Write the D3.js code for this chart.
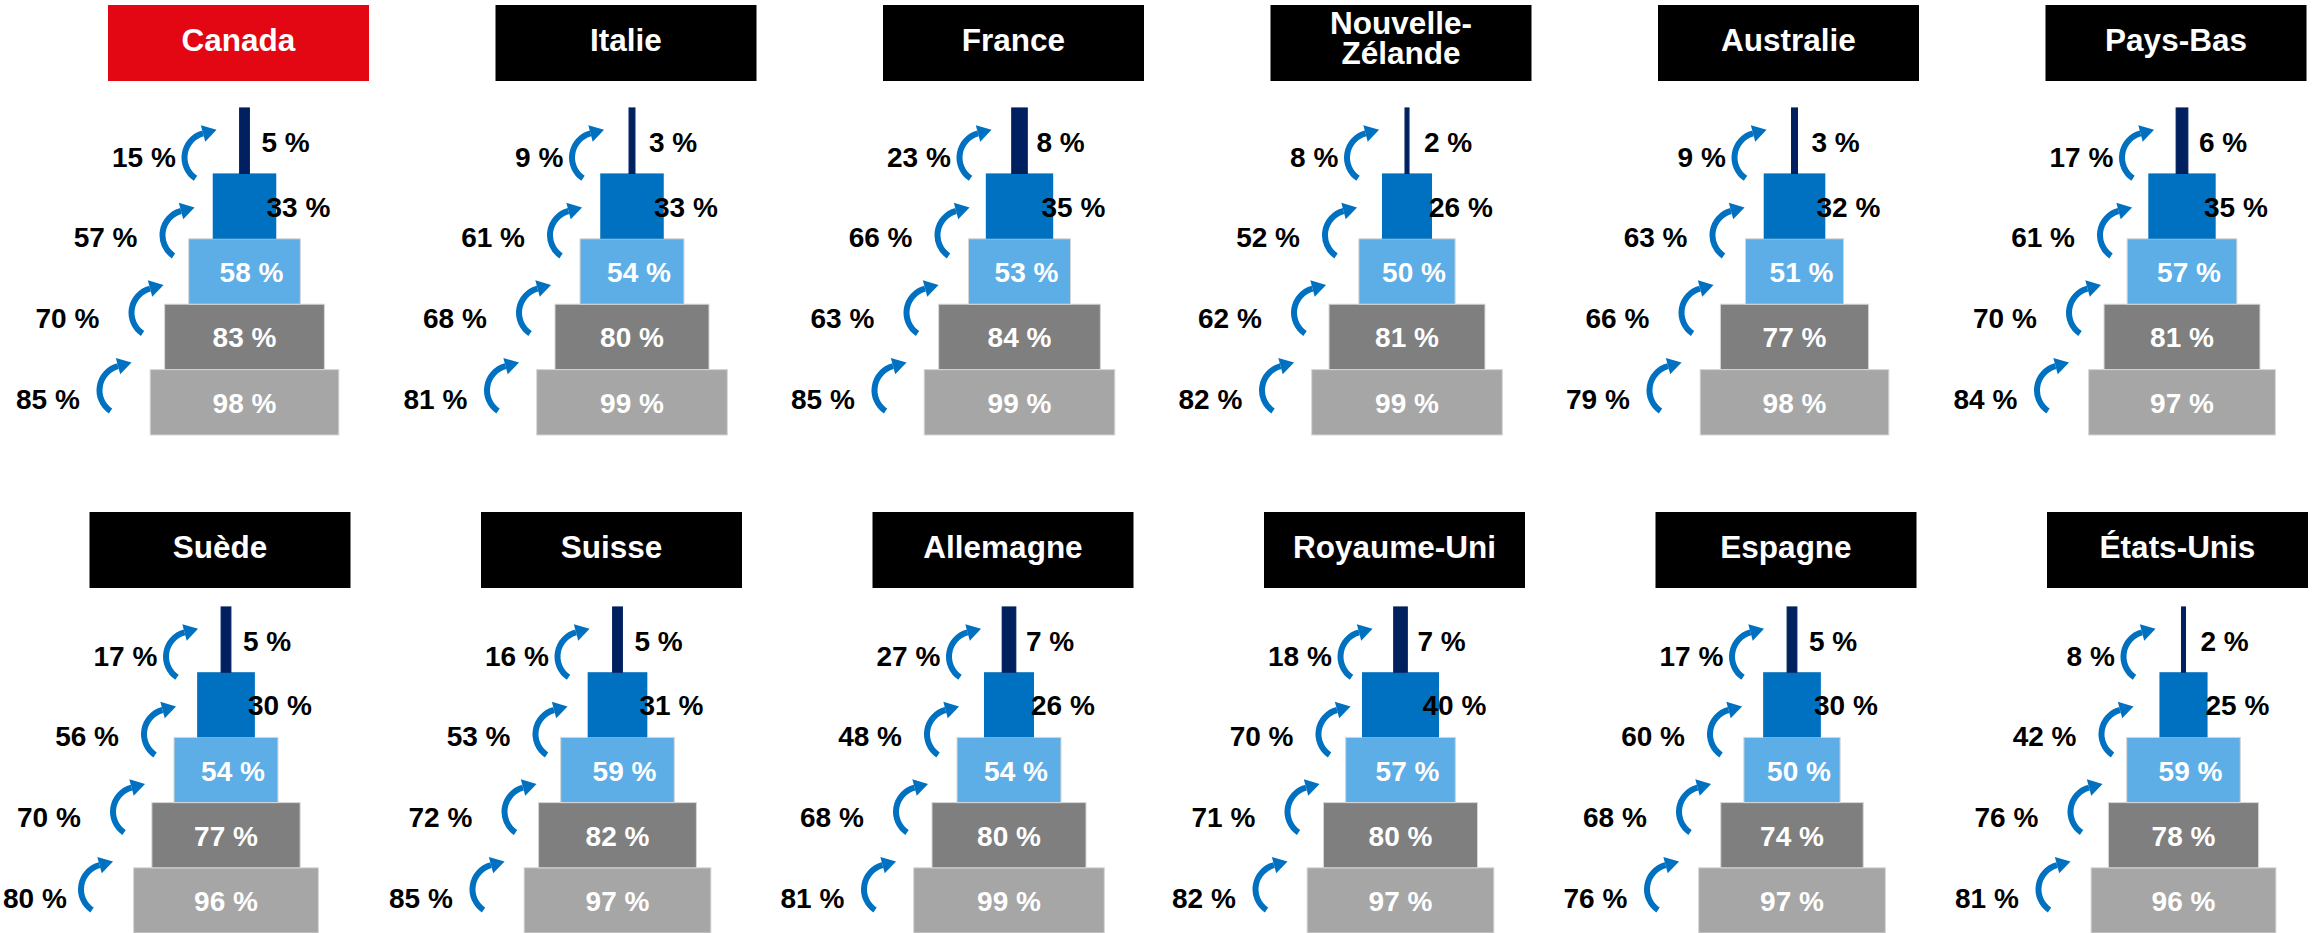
<!DOCTYPE html>
<meta charset="utf-8">
<style>
body { margin: 0; background: #fff; }
text { font-family: "Liberation Sans", Arial, sans-serif; font-weight: bold; }
</style>
<body>
<div id="chart"></div>
<script src="https://d3js.org/d3.v7.min.js"></script>
<script>
// countries, in reading order (two rows of six)
var countries = ["Canada", "Italie", "France", "Nouvelle-Zélande", "Australie", "Pays-Bas",
                 "Suède", "Suisse", "Allemagne", "Royaume-Uni", "Espagne", "États-Unis"];
var highlight = "Canada";

// pyramid levels, from the base (stage1) to the tip (stage5), in %
var stage1 = [98, 99, 99, 99, 98, 97, 96, 97, 99, 97, 97, 96];
var stage2 = [83, 80, 84, 81, 77, 81, 77, 82, 80, 80, 74, 78];
var stage3 = [58, 54, 53, 50, 51, 57, 54, 59, 54, 57, 50, 59];
var stage4 = [33, 33, 35, 26, 32, 35, 30, 31, 26, 40, 30, 25];
var stage5 = [5, 3, 8, 2, 3, 6, 5, 5, 7, 7, 5, 2];

// conversion from one level to the next, bottom to top, in %
var rate1 = [85, 81, 85, 82, 79, 84, 80, 85, 81, 82, 76, 81];
var rate2 = [70, 68, 63, 62, 66, 70, 70, 72, 68, 71, 68, 76];
var rate3 = [57, 61, 66, 52, 63, 61, 56, 53, 48, 70, 60, 42];
var rate4 = [15, 9, 23, 8, 9, 17, 17, 16, 27, 18, 17, 8];

var stages = [stage1, stage2, stage3, stage4, stage5];
var rates = [rate1, rate2, rate3, rate4];

var stageColors = ["#a6a6a6", "#7f7f7f", "#5daee6", "#0070c0", "#002060"];
var arrowColor = "#0070c0";

/* layout */
var W = 2316, H = 933;
var perRow = 6;
var boxW = 261, boxH = 76;
var rowLayout = [
  {titleTop: 5,   top: 108, bottom: 435, first: 244.5, last: 2182},
  {titleTop: 512, top: 607, bottom: 933, first: 226,   last: 2183.5}
];
// arrow block and label block, relative to the pyramid axis (bottom to top)
var arrowDx = [-120, -88, -57, -35];
var labelDx = [-164.7, -145.2, -107, -68.7];

var svg = d3.select("#chart").append("svg")
    .attr("width", W)
    .attr("height", H);

// bar width scale, in % of the population
var w = d3.scaleLinear().domain([0, 100]).range([0, 192.5]);

var arcShape = d3.arc()
    .innerRadius(22)
    .outerRadius(28)
    .startAngle(214 * Math.PI / 180)
    .endAngle(345 * Math.PI / 180);

function arrowHead() {
  var t = 345 * Math.PI / 180, r = 25;
  var mx = r * Math.sin(t), my = -r * Math.cos(t);
  var rx = Math.sin(t), ry = -Math.cos(t);   // outward
  var tx = Math.cos(t), ty = Math.sin(t);    // along the arc
  var p = d3.path();
  p.moveTo(mx + rx * 8.5, my + ry * 8.5);
  p.lineTo(mx + tx * 14, my + ty * 14);
  p.lineTo(mx - rx * 8.5, my - ry * 8.5);
  p.closePath();
  return p.toString();
}

countries.forEach(function(name, i) {
  var row = rowLayout[Math.floor(i / perRow)];
  var col = i % perRow;
  var xCol = d3.scaleLinear().domain([0, perRow - 1]).range([row.first, row.last]);
  var cx = xCol(col);
  var y = d3.scaleBand().domain(d3.range(stages.length)).range([row.bottom, row.top]);
  var yLabel = d3.scaleLinear().domain([0, rates.length - 1]).range([row.top + 290.5, row.top + 48.5]);
  var yArrow = d3.scaleLinear().domain([0, rates.length - 1]).range([row.top + 282.3, row.top + 49.6]);
  var bh = y.bandwidth();

  var g = svg.append("g");

  // title box
  var bx = cx - 6 - boxW / 2;
  g.append("rect")
      .attr("x", bx)
      .attr("y", row.titleTop)
      .attr("width", boxW)
      .attr("height", boxH)
      .attr("fill", name === highlight ? "#e30613" : "#000");
  var title = g.append("text")
      .attr("x", bx + boxW / 2)
      .attr("y", row.titleTop + 46)
      .attr("text-anchor", "middle")
      .attr("fill", "#fff")
      .style("font-size", "31.5px")
      .text(name);
  if (title.node().getComputedTextLength() > boxW - 16 && name.indexOf("-") > 0) {
    var parts = [name.slice(0, name.indexOf("-") + 1), name.slice(name.indexOf("-") + 1)];
    title.text(null);
    parts.forEach(function(s, k) {
      title.append("tspan")
          .attr("x", bx + boxW / 2)
          .attr("y", row.titleTop + 29.3 + k * 29.7)
          .text(s);
    });
  }

  // pyramid bars
  stages.forEach(function(s, k) {
    g.append("rect")
        .attr("x", cx - w(s[i]) / 2)
        .attr("y", y(k))
        .attr("width", w(s[i]))
        .attr("height", bh)
        .attr("fill", stageColors[k])
        .attr("stroke", k === 4 ? stageColors[k] : (k < 3 ? "#d6d6d6" : "none"))
        .attr("stroke-width", k === 4 ? 1.2 : 1);
  });

  // level values
  stages.forEach(function(s, k) {
    var xt = cx, anchor = "middle", color = "#fff";
    if (k === 2) xt = cx + 7;
    if (k === 3) { xt = cx + 22; anchor = "start"; color = "#000"; }
    if (k === 4) { xt = cx + 17; anchor = "start"; color = "#000"; }
    g.append("text")
        .attr("x", xt)
        .attr("y", y(k) + bh / 2 + (k === 4 ? 11.5 : 10.5))
        .attr("text-anchor", anchor)
        .attr("fill", color)
        .style("font-size", "28px")
        .text(s[i] + " %");
  });

  // conversion arrows and rates
  rates.forEach(function(r, j) {
    var a = g.append("g")
        .attr("transform", "translate(" + (cx + arrowDx[j]) + "," + yArrow(j) + ")")
        .attr("fill", arrowColor);
    a.append("path").attr("d", arcShape());
    a.append("path").attr("d", arrowHead());

    var t = g.append("text")
        .attr("x", cx + labelDx[j])
        .attr("y", yLabel(j) + 10)
        .attr("text-anchor", "end")
        .attr("fill", "#000")
        .style("font-size", "28px")
        .text(r[i] + " %");
    // keep the rate inside the page
    var bb = t.node().getBBox();
    if (bb.x < 3) t.attr("x", cx + labelDx[j] + (3 - bb.x));
  });
});
</script>
</body>
